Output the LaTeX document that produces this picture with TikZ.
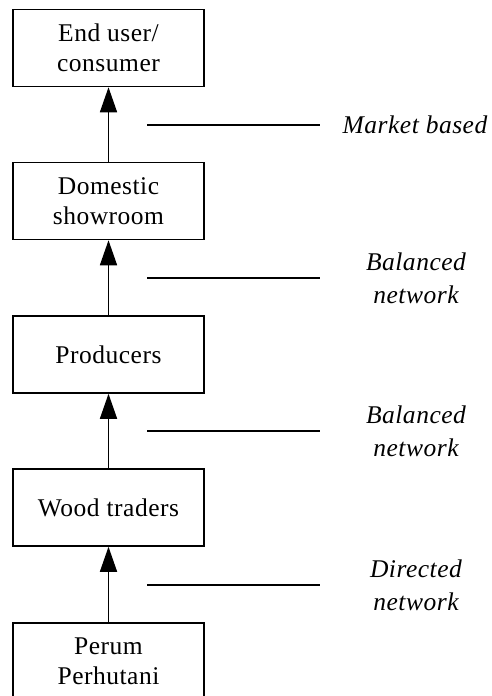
\documentclass[tikz,border=0pt]{standalone}
\usepackage{fontspec}
\setmainfont{Liberation Serif}[LetterSpace=2]
\usetikzlibrary{arrows.meta}
\begin{document}
\begin{tikzpicture}[x=1pt,y=-1pt,
  stagebox/.style={draw,line width=1.5pt,minimum width=191pt,minimum height=77pt,inner sep=0pt,align=center,font=\fontsize{25.5}{30}\selectfont},
  flow/.style={line width=1.5pt,-{Triangle[length=25pt,width=17pt]}},
  tick/.style={line width=1.5pt},
  lbl/.style={align=center,font=\fontsize{25.5}{33}\selectfont\itshape}]
\useasboundingbox (0,0) rectangle (491,696);
\clip (0,0) rectangle (491,696);
\node[stagebox] (end) at (108.5,48) {End user/\\consumer};
\node[stagebox] (show) at (108.5,201) {Domestic\\showroom};
\node[stagebox] (prod) at (108.5,354.5) {Producers};
\node[stagebox] (wood) at (108.5,507.5) {Wood traders};
\node[stagebox] (perum) at (108.5,661.5) {Perum\\Perhutani};
\draw[flow] (show) -- (end);
\draw[flow] (prod) -- (show);
\draw[flow] (wood) -- (prod);
\draw[flow] (perum) -- (wood);
\coordinate (a1) at (147,125); \coordinate (b1) at (320,125);
\coordinate (a2) at (147,278); \coordinate (b2) at (320,278);
\coordinate (a3) at (147,431); \coordinate (b3) at (320,431);
\coordinate (a4) at (147,585); \coordinate (b4) at (320,585);
\draw[tick] (a1) -- (b1);
\draw[tick] (a2) -- (b2);
\draw[tick] (a3) -- (b3);
\draw[tick] (a4) -- (b4);
\node[lbl] (l1) at (415,125) {Market based};
\node[lbl] (l2) at (416,278) {Balanced\\network};
\node[lbl] (l3) at (416,431) {Balanced\\network};
\node[lbl] (l4) at (416,585) {Directed\\network};
\end{tikzpicture}
\end{document}
